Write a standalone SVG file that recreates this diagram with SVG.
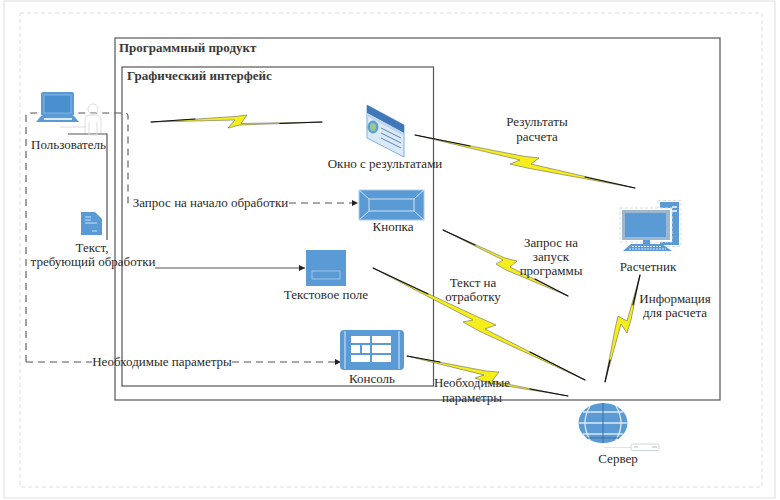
<svg xmlns="http://www.w3.org/2000/svg" width="780" height="500" viewBox="0 0 780 500">
<defs>
<marker id="arr" markerWidth="7" markerHeight="7" refX="6" refY="3" orient="auto" markerUnits="userSpaceOnUse"><path d="M0,0 L6,3 L0,6 Z" fill="#222"/></marker>
</defs>
<style>
text{font-family:"Liberation Serif","Times New Roman",serif;font-size:13px;fill:#2a2a2a;text-anchor:middle}
.t{font-weight:bold;text-anchor:start;fill:#3a3a3a}
.box{fill:none;stroke:#555;stroke-width:1.2}
.page{fill:none;stroke:#ddd;stroke-width:1;stroke-dasharray:4 3}
.edge{fill:none;stroke:#ddd;stroke-width:1}
.dash{fill:none;stroke:#555;stroke-width:1.1;stroke-dasharray:7 5}
.solid{fill:none;stroke:#555;stroke-width:1.2}
.bolt{fill:#f5ee1a;stroke:#666;stroke-width:.6;stroke-linejoin:miter}
.tip{fill:none;stroke:#111;stroke-width:1.2;stroke-linecap:round}
.ic{fill:#5b9bd5}
.il{fill:none;stroke:#cfe2f3;stroke-width:1}
.wl{fill:#fff}
</style>
<rect width="780" height="500" fill="#fff"/>
<rect class="edge" x="4" y="1" width="771" height="497"/>
<rect class="page" x="20" y="13" width="742" height="474"/>

<g id="program-product"><rect class="box" x="115" y="38" width="605" height="362"/><text class="t" x="119" y="52">Программный продукт</text></g>
<g id="gui"><rect class="box" x="122" y="67" width="311.500" height="319"/><text class="t" x="127" y="80">Графический интерфейс</text></g>

<g id="connectors">
<path class="dash" d="M26,362 V116 Q26,113 29,113 H125 Q128,113 128,116 V203 H132"/>
<path class="dash" d="M289,203 H358" marker-end="url(#arr)"/>
<path class="dash" d="M26,362 H92"/>
<path class="dash" d="M232,362 H341" marker-end="url(#arr)"/>
<path class="solid" d="M68,134 H107 V240"/>
<path class="solid" d="M155,268 H305" marker-end="url(#arr)"/>
<g id="bolts">
<polygon class="bolt" points="151,122 235,116.500 247,115 241,123.500 322,122 240,125 228,128 235,120"/>
<path class="tip" d="M151,122 L195,119 M280,123.500 L322,122"/>
<polygon class="bolt" points="415,135 522,156 539,158 531,164 635,188 527,168 510,164 520,160"/>
<path class="tip" d="M415,135 L470,146 M585,177 L635,188"/>
<polygon class="bolt" points="443,230 505,258 517,261 510,267 568,296 506,270 496,264 503,260"/>
<path class="tip" d="M443,230 L475,245 M535,279 L568,296"/>
<polygon class="bolt" points="373,268 478,317 496,325 485,329 585,380 479,331 463,322 473,320"/>
<path class="tip" d="M373,268 L428,294 M530,352 L585,380"/>
<polygon class="bolt" points="407,356 486,371 499,372 492,381 568,396 488,383 475,378 484,375"/>
<path class="tip" d="M407,356 L440,362 M530,389 L568,396"/>
<polygon class="bolt" points="640,275 631,320 627,333 621,324 605,382 615,329 618,316 627,321"/>
<path class="tip" d="M640,275 L633,305 M610,360 L605,382"/>
</g>
</g>

<g id="user">
<rect class="ic" x="41" y="92" width="33" height="24" rx="2"/>
<rect x="44" y="95" width="27" height="18" fill="#4a8fd0" stroke="#a9cbe8" stroke-width=".6"/>
<path class="ic" d="M41,116 H74 L79,122 H36 Z"/>
<rect x="44" y="118" width="28" height="2" fill="#dbe9f6"/>
<g fill="none" stroke="#ddd" stroke-width="1"><circle cx="93" cy="109" r="5"/><path d="M85,133 V120 Q85,115 90,115 H96 Q101,115 101,120 V133 M89,122 V135 H97 V122 M60,127 H86"/></g>
<text x="68.500" y="149">Пользователь</text>
</g>

<g id="text-doc">
<path class="ic" d="M81,212 H95 L102,219 V235 H81 Z"/>
<path d="M85,217 H91 M85,220 H91 M85,223 H97 M92,231 H97" stroke="#cfe2f3" stroke-width="1" fill="none"/>
<text x="92" y="252">Текст,</text><text x="93" y="266">требующий обработки</text>
</g>
<text x="210.500" y="207" id="label-start">Запрос на начало обработки</text>
<text x="162" y="366" id="label-params">Необходимые параметры</text>

<g id="results-window">
<polygon points="367,105 404,125 404,157 367,138" fill="#d9e9f7" stroke="#7fb0dd" stroke-width="1"/>
<polygon points="367,105 404,125 404,133 367,113" fill="#3f77b8"/>
<polygon points="367,113 404,133 404,136 367,116" fill="#bcd6ee"/>
<ellipse cx="373" cy="127" rx="5" ry="6" fill="#5aa2cc" stroke="#5b9bd5"/>
<ellipse cx="373" cy="127" rx="3" ry="4" fill="#9dc88a"/>
<path d="M381,128 L401,138 M381,133 L401,143 M381,138 L401,148" stroke="#5f86ad" stroke-width="1"/>
<text x="385" y="168">Окно с результатами</text>
</g>

<g id="button">
<rect class="ic" x="359" y="190" width="65" height="30" stroke="#a9cbe8"/>
<path class="il" d="M369,199 H414 V211 H369 Z M359,190 L369,199 M424,190 L414,199 M359,220 L369,211 M424,220 L414,211"/>
<text x="393" y="231">Кнопка</text>
</g>

<g id="textbox">
<rect class="ic" x="306" y="250" width="40" height="36"/>
<rect x="312" y="271" width="28" height="8" fill="none" stroke="#9cc3e6" stroke-width="1"/>
<text x="326" y="299">Текстовое поле</text>
</g>

<g id="console">
<rect class="ic" x="340" y="330" width="64" height="40" rx="4"/>
<path d="M345,331 V369 M399,331 V369" stroke="#dbe9f6" stroke-width="1"/>
<g class="wl"><rect x="351" y="336" width="19" height="7"/><rect x="372" y="336" width="19" height="7"/><rect x="351" y="345" width="9" height="8"/><rect x="362" y="345" width="8" height="8"/><rect x="372" y="345" width="19" height="8"/><rect x="351" y="355" width="19" height="7"/><rect x="372" y="355" width="19" height="7"/></g>
<text x="372" y="383">Консоль</text>
</g>

<g id="calculator">
<rect x="658" y="200.500" width="23" height="46" fill="none" stroke="#ddd" stroke-dasharray="3 2"/>
<rect class="ic" x="660" y="202" width="19" height="43"/>
<rect x="672" y="206" width="5" height="2" fill="#cfe2f3"/><rect x="672" y="210" width="5" height="2" fill="#cfe2f3"/>
<rect x="620" y="208" width="52" height="34" fill="#fff" stroke="#ddd" stroke-dasharray="3 2"/>
<rect x="622" y="210" width="48" height="30" fill="#9db7cf"/>
<rect x="625" y="213" width="41" height="24" fill="#5b9bd5"/>
<rect x="643" y="240" width="7" height="4" class="ic"/>
<path class="ic" d="M631,244 H662 L672,251 H623 Z"/>
<path d="M632,246.500 H661 M629,249 H666" stroke="#dbe9f6" stroke-width="1" stroke-dasharray="2 1"/>
<text x="648" y="271">Расчетник</text>
</g>

<g id="server">
<ellipse class="ic" cx="603" cy="423" rx="24.500" ry="20"/>
<path d="M579,423 H627 M583,412 H623 M583,434 H623 M590,406 Q580,423 590,440 M616,406 Q626,423 616,440" fill="none" stroke="#dbe9f6" stroke-width="1.300"/>
<path d="M603,403 V443 M587,438 H619" stroke="#3d6f9e" stroke-width="1" fill="none"/>
<path d="M604,447.500 H631" stroke="#e3e3e3" stroke-width="1" fill="none"/>
<rect x="631" y="444" width="28" height="6.500" rx="1.500" fill="#fff" stroke="#ccd6df" stroke-width="1"/>
<path d="M634,447 H638 M652,447 H657" stroke="#bbb" stroke-width="1"/>
<text x="618" y="463">Сервер</text>
</g>

<g id="labels">
<text x="537" y="126">Результаты</text><text x="537" y="141">расчета</text>
<text x="551" y="247">Запрос на</text><text x="551" y="261">запуск</text><text x="551" y="275">программы</text>
<text x="473" y="287">Текст на</text><text x="473" y="301">отработку</text>
<text x="675" y="303">Информация</text><text x="675" y="317">для расчета</text>
<text x="472" y="387">Необходимые</text><text x="472" y="402">параметры</text>
</g>
</svg>
